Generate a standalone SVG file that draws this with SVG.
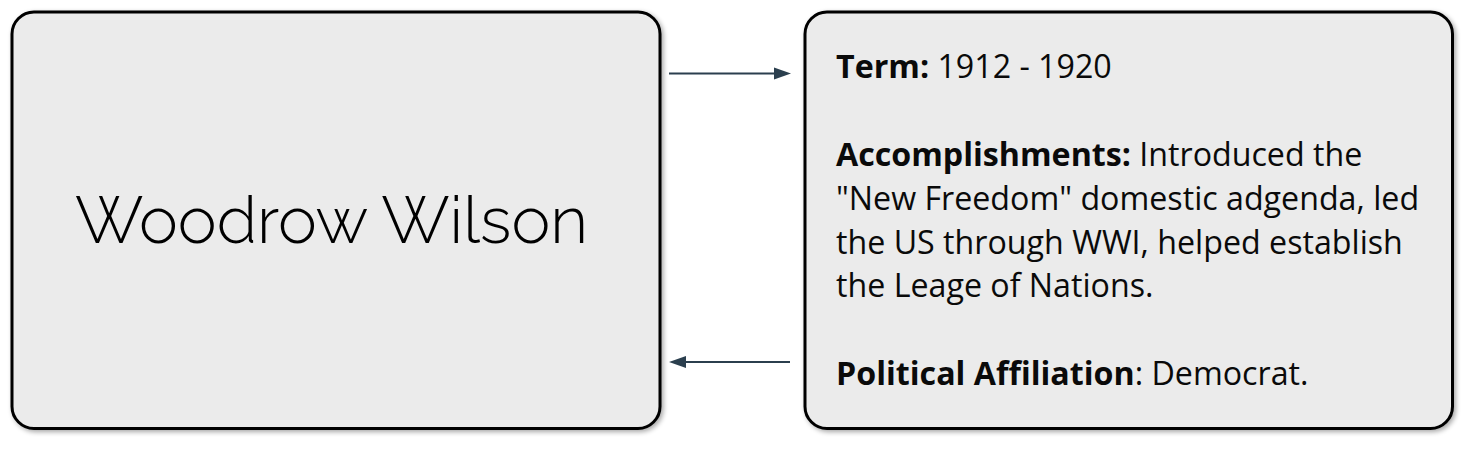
<svg xmlns="http://www.w3.org/2000/svg" width="1468" height="455" viewBox="0 0 1468 455">
<defs>
<style>
.box{fill:#ebebeb;stroke:#000;stroke-width:3;filter:url(#sh)}
.t{font-family:"Open Sans",sans-serif;font-size:32.2px;fill:#0a0a0a}
.b{font-weight:bold}
.title{font-family:"Raleway","Lato","Noto Sans",sans-serif;font-weight:300;font-size:66px;fill:#000}
</style>
<filter id="sh" x="-5%" y="-5%" width="112%" height="115%">
<feGaussianBlur in="SourceAlpha" stdDeviation="2.5"/>
<feOffset dx="2" dy="2" result="o"/>
<feComponentTransfer><feFuncA type="linear" slope="0.35"/></feComponentTransfer>
<feMerge><feMergeNode/><feMergeNode in="SourceGraphic"/></feMerge>
</filter>
</defs>
<g id="connectors">
<line x1="669" y1="73.5" x2="776" y2="73.5" stroke="#2b3f4e" stroke-width="2"/>
<path d="M774,67.5 L791,73.5 L774,79.5 z" fill="#2b3f4e"/>
<line x1="790" y1="362" x2="684" y2="362" stroke="#2b3f4e" stroke-width="2"/>
<path d="M686,356 L669,362 L686,368 z" fill="#2b3f4e"/>
</g>
<g id="node-wilson">
<rect class="box" x="12" y="12" width="648" height="416.5" rx="22" ry="22"/>
<text class="title" x="331.5" y="243" text-anchor="middle" textLength="513" lengthAdjust="spacingAndGlyphs">Woodrow Wilson</text>
</g>
<g id="node-info">
<rect class="box" x="805" y="12" width="647.5" height="416.5" rx="22" ry="22"/>
<text class="t" x="836" y="78"><tspan class="b">Term:</tspan> 1912 - 1920</text>
<text class="t" x="836" y="166"><tspan class="b">Accomplishments:</tspan> Introduced the</text>
<text class="t" x="836" y="210">"New Freedom" domestic adgenda, led</text>
<text class="t" x="836" y="254">the US through WWI, helped establish</text>
<text class="t" x="836" y="297">the Leage of Nations.</text>
<text class="t" x="836" y="385"><tspan class="b">Political Affiliation</tspan>: Democrat.</text>
</g>
</svg>
